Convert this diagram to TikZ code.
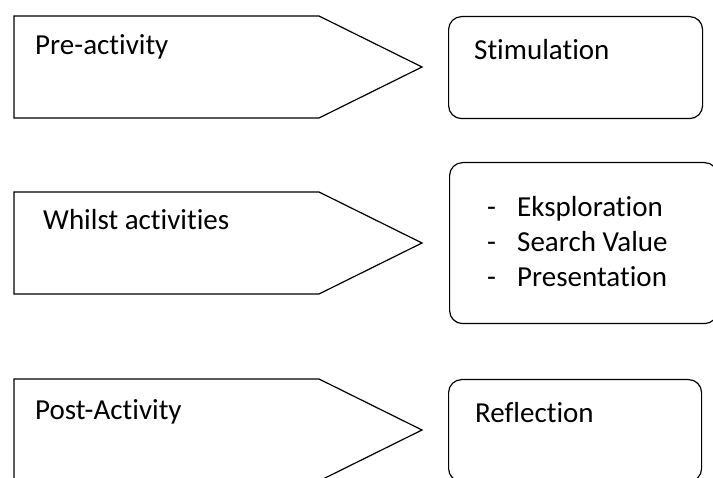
\documentclass[tikz,border=0pt]{standalone}
\usepackage{fontspec}
\setmainfont{Carlito}[Ligatures=NoCommon]
\usetikzlibrary{positioning,calc}
\tikzset{
  phaseShape/.style={draw=black,line width=1.2pt,line join=miter},
  stageBox/.style={draw=black,line width=1.2pt,rounded corners=13pt,
                   inner sep=0pt,anchor=north west},
  boxText/.style={inner sep=0pt,anchor=base west,
                  font=\fontsize{29}{35}\selectfont}
}

\begin{document}
\begin{tikzpicture}[x=1pt,y=-1pt]
\clip (0,0) rectangle (713,478);
% phase arrows
\draw[phaseShape] (14,16) -- (319,16) -- (422,67) -- (319,118) -- (14,118) -- cycle;
\draw[phaseShape] (14,192) -- (319,192) -- (422,243) -- (319,294) -- (14,294) -- cycle;
\draw[phaseShape] (14,379) -- (319,379) -- (422,430) -- (319,481) -- (14,481) -- cycle;
\node[boxText] (pre) at (35,55) {Pre-activity};
\node[boxText] (whilst) at (43,230) {Whilst activities};
\node[boxText] (post) at (35,420) {Post-Activity};
% stage boxes
\node[stageBox,minimum width=254pt,minimum height=102pt] (stim) at (448,16) {};
\node[stageBox,minimum width=268pt,minimum height=161pt] (main) at (449,162) {};
\node[stageBox,minimum width=253pt,minimum height=102pt] (refl) at (448,379) {};
\node[boxText] (stimText) at (474,60) {Stimulation};
\node[boxText] (reflText) at (475,423) {Reflection};
\node[boxText] (dashA) at (487,217) {-};
\node[boxText] (dashB) at (487,252) {-};
\node[boxText] (dashC) at (487,287) {-};
\node[boxText] (explore) at (517,217) {Eksploration};
\node[boxText] (search) at (517,252) {Search Value};
\node[boxText] (present) at (517,287) {Presentation};
\end{tikzpicture}
\end{document}
